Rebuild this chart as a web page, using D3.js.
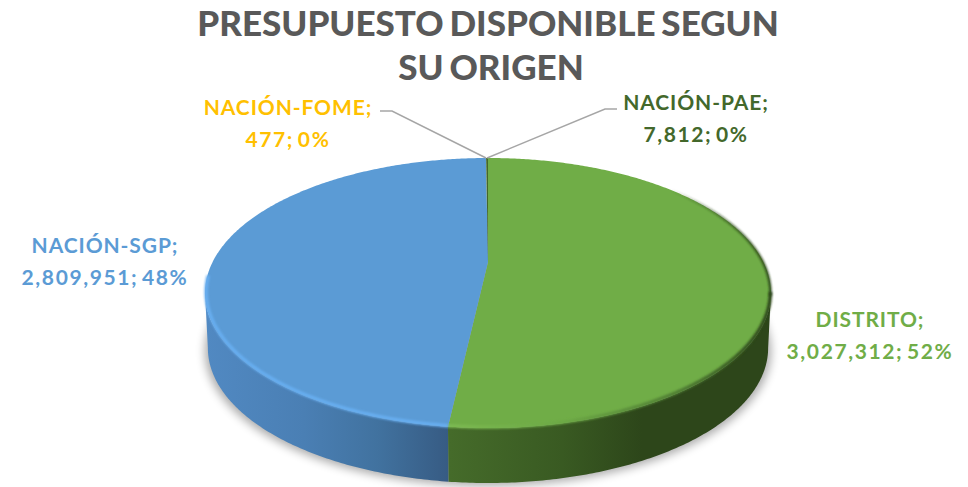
<!DOCTYPE html>
<html>
<head>
<meta charset="utf-8">
<script src="https://cdnjs.cloudflare.com/ajax/libs/d3/7.8.5/d3.min.js"></script>
<style>
  html, body { margin: 0; padding: 0; background: #fff; }
  svg { display: block; }
  text { font-family: Lato, "Open Sans", sans-serif; font-weight: 700; text-anchor: middle; }
</style>
</head>
<body>
<div id="chart"></div>
<script>
var titleLines = ["PRESUPUESTO DISPONIBLE SEGUN", "SU ORIGEN"];
var categories = ["DISTRITO", "NACIÓN-SGP", "NACIÓN-FOME", "NACIÓN-PAE"];
var values = [3027312, 2809951, 477, 7812];
var colors = ["#70ad47", "#5b9bd5", "#ffc000", "#43682b"];

var width = 968, height = 487;

// perspective of the disc: center seen at (488,262), near side bigger than far side
var cx = 488, cy = 262, rx = 275.4, ry = 127.9, persp = 0.2296, depth = 55;
// angle where the disc is widest, the wall is only visible between this and its mirror
var tangent = Math.acos(-persp);

function project(a, scaleX, dy) {
  var u = Math.sin(a), v = -Math.cos(a), w = 1 - persp * v;
  return [cx + (scaleX || 1) * rx * u / w, cy + (dy || 0) + ry * v / w];
}

function arcPoints(a0, a1, scaleX, dy) {
  var n = Math.max(2, Math.ceil(Math.abs(a1 - a0) / 0.01));
  return d3.range(n + 1).map(function(i) {
    return project(a0 + (a1 - a0) * i / n, scaleX, dy);
  });
}

var line = d3.line();

var svg = d3.select("#chart").append("svg")
    .attr("width", width)
    .attr("height", height);

var defs = svg.append("defs");

defs.append("filter").attr("id", "shadow")
    .attr("x", "-10%").attr("y", "-10%").attr("width", "120%").attr("height", "130%")
  .append("feGaussianBlur").attr("stdDeviation", 5);
defs.append("filter").attr("id", "soft")
    .attr("filterUnits", "userSpaceOnUse")
    .attr("x", 0).attr("y", 0).attr("width", width).attr("height", height)
  .append("feGaussianBlur").attr("stdDeviation", 1.3);

function gradient(id, x1, x2, stops) {
  var g = defs.append("linearGradient").attr("id", id)
      .attr("gradientUnits", "userSpaceOnUse")
      .attr("x1", x1).attr("x2", x2).attr("y1", 0).attr("y2", 0);
  stops.forEach(function(s) {
    g.append("stop").attr("offset", s[0]).attr("stop-color", s[1])
        .attr("stop-opacity", s[2] === undefined ? 1 : s[2]);
  });
}

gradient("wall0", 450, 770, [[0, "#456b2a"], [0.35, "#395a22"], [0.6, "#2d461a"], [1, "#2d461a"]]);
gradient("wall1", 205, 452, [[0, "#5189c2"], [0.4, "#4a7fb4"], [0.7, "#41729f"], [1, "#365a82"]]);
gradient("rim0", 450, 772, [[0, "#7cba52"], [0.35, "#6ca845"], [0.7, "#4f7d33"], [1, "#2c451a"]]);
gradient("edge0", 670, 772, [[0, "#2c451a", 0], [0.6, "#2c451a", 0.7], [1, "#2c451a", 1]]);

var pie = d3.pie().sort(null).value(function(d) { return d; });
var slices = pie(values);
var total = d3.sum(values);

// ground shadow
svg.append("path")
    .attr("d", line(arcPoints(0, 2 * Math.PI, 1.0, depth + 3)) + "Z")
    .attr("fill", "#000")
    .attr("opacity", 0.33)
    .attr("filter", "url(#shadow)");

// walls
svg.selectAll(".wall")
    .data(slices)
  .enter().append("path")
    .attr("class", "wall")
    .attr("d", function(d) {
      var a0 = Math.max(d.startAngle, tangent),
          a1 = Math.min(d.endAngle, 2 * Math.PI - tangent);
      if (a1 <= a0) return null;
      return line(arcPoints(a0, a1).concat(arcPoints(a1, a0, 0.99, depth))) + "Z";
    })
    .attr("fill", function(d, i) { return "url(#wall" + i + ")"; });

// top face
svg.selectAll(".slice")
    .data(slices)
  .enter().append("path")
    .attr("class", "slice")
    .attr("d", function(d) {
      return line([[cx, cy]].concat(arcPoints(d.startAngle, d.endAngle))) + "Z";
    })
    .attr("fill", function(d, i) { return colors[i]; });

// bevel along the edge of the two big slices
svg.append("path")
    .attr("d", line(arcPoints(0.7, tangent + 0.02, 0.998)))
    .attr("fill", "none")
    .attr("stroke", "url(#edge0)")
    .attr("stroke-width", 2.5)
    .attr("filter", "url(#soft)");
svg.append("path")
    .attr("d", line(arcPoints(tangent, slices[0].endAngle, 0.998, -1)))
    .attr("fill", "none")
    .attr("stroke", "url(#rim0)")
    .attr("stroke-width", 3.5)
    .attr("filter", "url(#soft)");
svg.append("path")
    .attr("d", line(arcPoints(slices[1].startAngle, 2 * Math.PI - tangent + 0.12, 0.996, -1)))
    .attr("fill", "none")
    .attr("stroke", "#67aef0")
    .attr("stroke-width", 3.5)
    .attr("filter", "url(#soft)");

// leader lines of the two tiny slices
var leaders = [
  {slice: 2, knee: [392, 111], end: [380, 111]},
  {slice: 3, knee: [605, 109], end: [617, 109]}
];
svg.selectAll(".leader")
    .data(leaders)
  .enter().append("path")
    .attr("class", "leader")
    .attr("d", function(d) {
      var s = slices[d.slice];
      return line([project((s.startAngle + s.endAngle) / 2), d.knee, d.end]);
    })
    .attr("fill", "none")
    .attr("stroke", "#a6a6a6")
    .attr("stroke-width", 1.5);

// title
svg.selectAll(".title")
    .data(titleLines)
  .enter().append("text")
    .attr("class", "title")
    .attr("x", function(d, i) { return i ? 491 : 488; })
    .attr("y", function(d, i) { return 36 + i * 44; })
    .attr("fill", "#595959")
    .style("font-size", "35px")
    .style("font-weight", 900)
    .style("word-spacing", "-2.5px")
    .text(function(d) { return d; });

// data labels
var labelPos = [[870, 327], [105, 253], [288, 115], [696, 110]];
var labels = svg.selectAll(".label")
    .data(slices)
  .enter().append("text")
    .attr("class", "label")
    .attr("fill", function(d, i) { return colors[i]; })
    .style("font-size", "21px")
    .style("letter-spacing", "0.9px");

labels.append("tspan")
    .attr("x", function(d, i) { return labelPos[i][0]; })
    .attr("y", function(d, i) { return labelPos[i][1]; })
    .text(function(d, i) { return categories[i] + ";"; });
labels.append("tspan")
    .attr("x", function(d, i) { return labelPos[i][0]; })
    .attr("y", function(d, i) { return labelPos[i][1] + 32; })
    .style("letter-spacing", "1.6px")
    .style("word-spacing", "-3px")
    .text(function(d) { return d3.format(",")(d.value) + "; " + d3.format(".0%")(d.value / total); });
</script>
</body>
</html>
